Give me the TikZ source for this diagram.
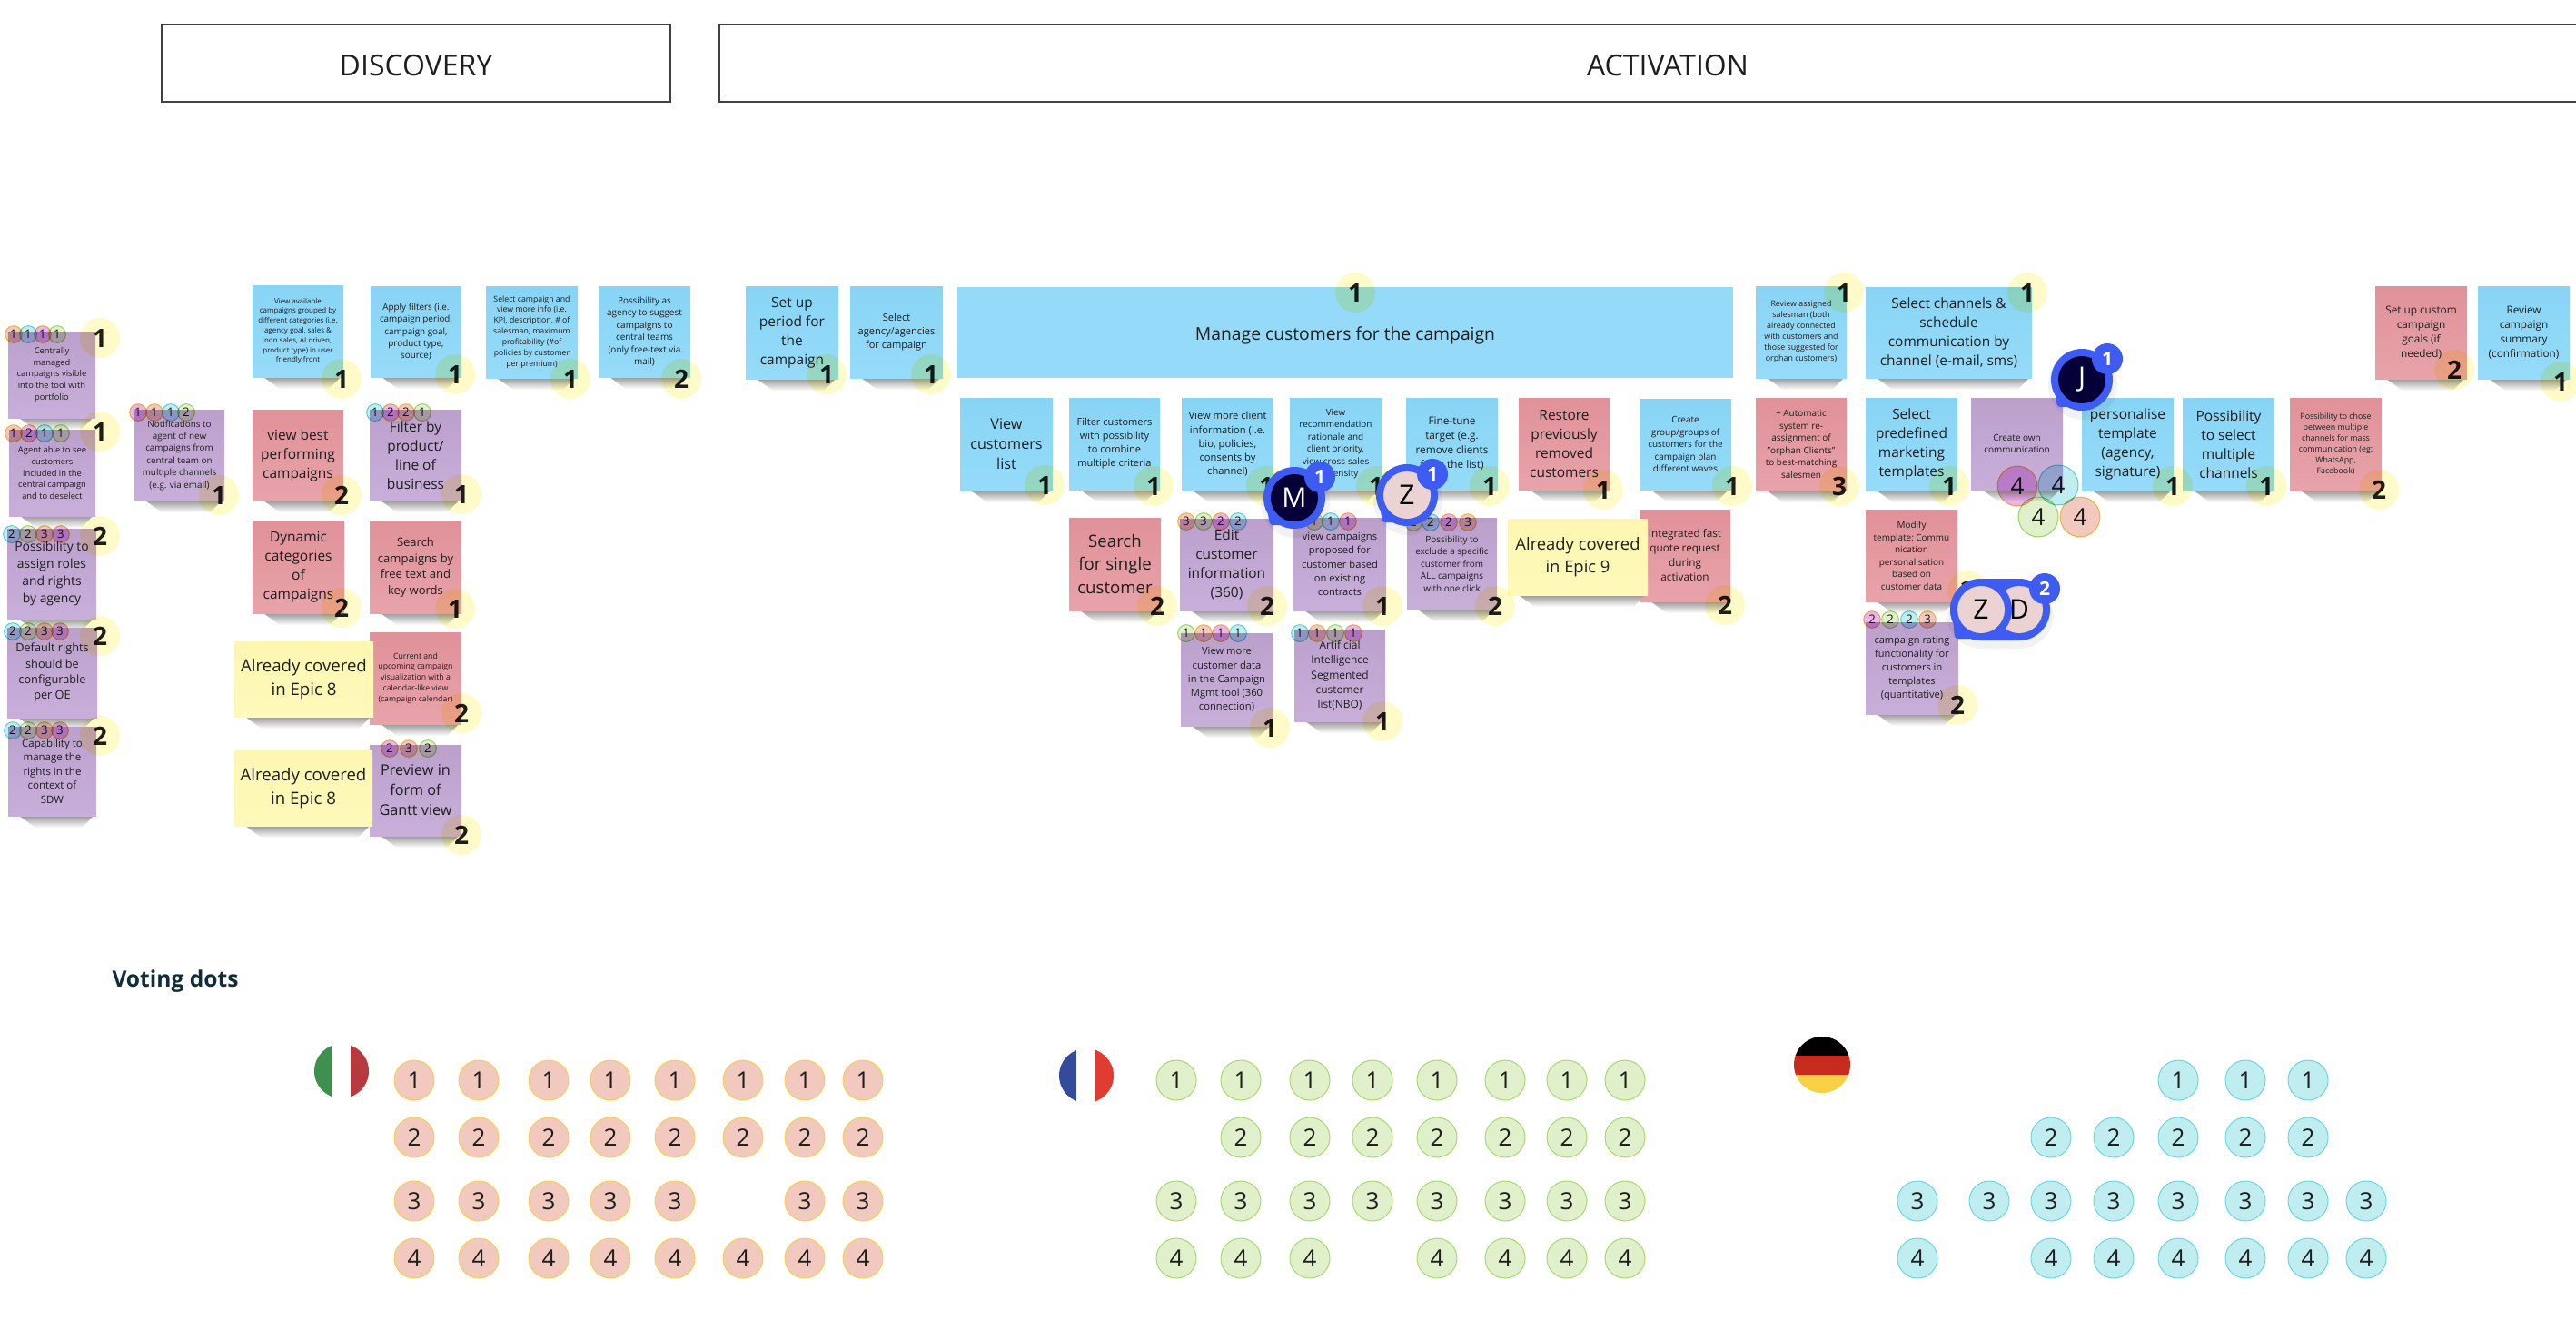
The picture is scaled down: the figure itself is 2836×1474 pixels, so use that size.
\documentclass[tikz,border=0pt]{standalone}
\usepackage{fontspec}
\setmainfont{Open Sans}
\definecolor{inkblack}{HTML}{1E1E1E}
\definecolor{bandblue}{HTML}{3F5CF2}
\definecolor{avatarnavy}{HTML}{050038}
\definecolor{avatarpink}{HTML}{EBD3D3}
\begin{document}
\begin{tikzpicture}[x=.5pt,y=-.5pt,line width=.5pt,text=inkblack,
  headbox/.style={draw=black!75,line width=.6pt,minimum height=42.5pt,text height=15pt,text depth=1pt,font=\fontsize{16}{20}\selectfont},
  sticky/.style={inner sep=0pt,align=center},
  noteblue/.style={top color={rgb,255:red,136;green,212;blue,245},bottom color={rgb,255:red,150;green,219;blue,249}},
  notered/.style={top color={rgb,255:red,224;green,145;blue,153},bottom color={rgb,255:red,232;green,163;blue,170}},
  notepurple/.style={top color={rgb,255:red,187;green,160;blue,204},bottom color={rgb,255:red,200;green,175;blue,218}},
  noteyellow/.style={top color={rgb,255:red,253;green,247;blue,178},bottom color={rgb,255:red,255;green,249;blue,186}},
  sagging/.style={top color=black!40,middle color=black!6,bottom color=white,draw=none},
  badge/.style={circle,fill={rgb,255:red,255;green,251;blue,200},minimum size=22pt,inner sep=0pt,font=\fontsize{14}{16}\bfseries\selectfont},
  votedot/.style={circle,draw,line width=.5pt,minimum size=9.4pt,inner sep=0pt,font=\fontsize{6.6}{8}\selectfont},
  bigdot/.style={votedot,minimum size=22pt,font=\fontsize{13}{15}\selectfont},
  i/.style={fill={rgb,255:red,242;green,201;blue,191},draw={rgb,255:red,246;green,207;blue,80}},
  f/.style={fill={rgb,255:red,224;green,240;blue,203},draw={rgb,255:red,168;green,217;blue,110}},
  d/.style={fill={rgb,255:red,192;green,237;blue,240},draw={rgb,255:red,106;green,214;blue,223}},
  m/.style={fill={rgb,255:red,237;green,180;blue,234},draw={rgb,255:red,246;green,200;blue,80}},
  ring/.style={circle,fill=bandblue,minimum size=34pt,inner sep=0pt},
  face/.style={circle,minimum size=26pt,inner sep=0pt,font=\fontsize{15}{17}\selectfont},
  bubblecount/.style={circle,fill=bandblue,text=white,minimum size=17pt,inner sep=0pt,font=\fontsize{10.5}{12}\bfseries\selectfont}]
  \useasboundingbox (0,0) rectangle (2836,1474);
  \clip (0,0) rectangle (2836,1474);

  \node[headbox,minimum width=280pt] (discovery) at (458,69.5) {DISCOVERY};
  \node[headbox,minimum width=1044pt] (activation) at (1836,69.5) {ACTIVATION};
  \node[anchor=west,inner sep=0pt,font=\fontsize{12.3}{15}\bfseries\selectfont,text={rgb,255:red,15;green,45;blue,58}] (voting) at (123,1080) {Voting dots};

  % name/left/top/right/bottom/colour/line pitch/text; yellow ones last, they lie on top
  \foreach \name/\xl/\yt/\xr/\yb/\col/\pitch/\txt in {
    centrally/9/365/105/460/notepurple/12.7/{Centrally\\managed\\campaigns visible\\into the tool with\\portfolio},
    agentable/10/473/105/568/notepurple/12.7/{Agent able to see\\customers\\included in the\\central campaign\\and to deselect},
    assignroles/8/582/106/681/notepurple/18.9/{Possibility to\\assign roles\\and rights\\by agency},
    defaultrights/8/691/107/790/notepurple/17.3/{Default rights\\should be\\configurable\\per OE},
    manageright/9/800/106/898/notepurple/15.6/{Capability to\\manage the\\rights in the\\context of\\SDW},
    notifications/148/451/247/551/notepurple/13.4/{Notifications to\\agent of new\\campaigns from\\central team on\\multiple channels\\(e.g. via email)},
    viewavailable/278/314/378/415/noteblue/10.8/{View available\\campaigns grouped by\\different categories (i.e.\\agency goal, sales \&\\non sales, AI driven,\\product type) in user\\friendly front},
    applyfilters/408/315/508/415/noteblue/13.4/{Apply filters (i.e.\\campaign period,\\campaign goal,\\product type,\\source)},
    selectinfo/535/315/636/416/noteblue/11.9/{Select campaign and\\view more info (i.e.\\KPI, description, \# of\\salesman, maximum\\profitability (\#of\\policies by customer\\per premium)},
    suggest/659/315/760/415/noteblue/13.5/{Possibility as\\agency to suggest\\campaigns to\\central teams\\(only free-text via\\mail)},
    viewbest/278/451/378/551/notered/21/{view best\\performing\\campaigns},
    filterby/407/451/508/551/notepurple/21/{Filter by\\product/\\line of\\business},
    dynamic/278/573/379/675/notered/21/{Dynamic\\categories\\of\\campaigns},
    searchfree/407/574/508/675/notered/17.7/{Search\\campaigns by\\free text and\\key words},
    calendar/407/696/508/797/notered/11.8/{Current and\\upcoming campaign\\visualization with a\\calendar-like view\\(campaign calendar)},
    gantt/407/820/508/920/notepurple/22/{Preview in\\form of\\Gantt view},
    setperiod/821/315/923/417/noteblue/21/{Set up\\period for\\the\\campaign},
    selectagency/936/315/1038/416/noteblue/15/{Select\\agency/agencies\\for campaign},
    viewlist/1057/438/1159/540/noteblue/22/{View\\customers\\list},
    filtercust/1177/438/1277/539/noteblue/15/{Filter customers\\with possibility\\to combine\\multiple criteria},
    moreclient/1301/438/1402/540/noteblue/15.2/{View more client\\information (i.e.\\bio, policies,\\consents by\\channel)},
    rationale/1420/438/1521/539/noteblue/13.5/{View\\recommendation\\rationale and\\client priority,\\view cross-sales\\propensity},
    finetune/1548/438/1649/539/noteblue/16/{Fine-tune\\target (e.g.\\remove clients\\from the list)},
    restore/1672/438/1772/539/notered/21/{Restore\\previously\\removed\\customers},
    waves/1805/439/1906/539/noteblue/13.5/{Create\\group/groups of\\customers for the\\campaign plan\\different waves},
    searchsingle/1177/570/1278/672/notered/25.3/{Search\\for single\\customer},
    editinfo/1299/571/1402/672/notepurple/21/{Edit\\customer\\information\\(360)},
    viewproposed/1424/570/1526/672/notepurple/15.2/{view campaigns\\proposed for\\customer based\\on existing\\contracts},
    exclude/1549/570/1648/671/notepurple/13.5/{Possibility to\\exclude a specific\\customer from\\ALL campaigns\\with one click},
    quote/1805/561/1905/662/notered/16/{Integrated fast\\quote request\\during\\activation},
    moredata/1300/697/1401/799/notepurple/15.2/{View more\\customer data\\in the Campaign\\Mgmt tool (360\\connection)},
    segmented/1425/693/1525/794/notepurple/16.2/{Artificial\\Intelligence\\Segmented\\customer\\list(NBO)},
    reviewassigned/1933/315/2033/416/noteblue/12/{Review assigned\\salesman (both\\already connected\\with customers and\\those suggested for\\orphan customers)},
    selectchannels/2054/316/2237/416/noteblue/21/{Select channels \&\\schedule\\communication by\\channel (e-mail, sms)},
    reassign/1933/438/2033/540/notered/13.5/{+ Automatic\\system re-\\assignment of\\"orphan Clients"\\to best-matching\\salesmen},
    predefined/2054/438/2155/540/noteblue/21/{Select\\predefined\\marketing\\templates},
    createown/2170/438/2271/539/notepurple/13.5/{Create own\\communication},
    personalise/2292/438/2393/540/noteblue/21/{personalise\\template\\(agency,\\signature)},
    multiple/2403/438/2504/540/noteblue/21/{Possibility\\to select\\multiple\\channels},
    massmail/2521/438/2622/540/notered/12/{Possibility to chose\\between multiple\\channels for mass\\communication (eg:\\WhatsApp,\\Facebook)},
    customgoals/2615/315/2716/417/notered/16/{Set up custom\\campaign\\goals (if\\needed)},
    summary/2728/315/2829/417/noteblue/16/{Review\\campaign\\summary\\(confirmation)},
    modify/2054/561/2155/662/notered/13.5/{Modify\\template; Commu\\nication\\personalisation\\based on\\customer data},
    rating/2054/685/2156/786/notepurple/15/{campaign rating\\functionality for\\customers in\\templates\\(quantitative)},
    coveredone/258/706/411/789/noteyellow/25.3/{Already covered\\in Epic 8},
    coveredtwo/258/826/410/909/noteyellow/25.3/{Already covered\\in Epic 8},
    coverednine/1660/571/1814/655/noteyellow/25/{Already covered\\in Epic 9}}{
    \pgfmathsetmacro\fs{\pitch*.368}
    \pgfmathsetmacro\bl{\pitch*.5}
    \shade[sagging] (\xl+12,\yb) -- (\xr-3,\yb) -- (\xr-16,\yb+13) -- (\xl+30,\yb+13) -- cycle;
    \node[sticky,\col,minimum width={(\xr-\xl)*.5pt},minimum height={(\yb-\yt)*.5pt},font=\fontsize{\fs}{\bl}\selectfont]
      (\name) at ({(\xl+\xr)/2},{(\yt+\yb)/2}) {\txt};
  }
  \node[sticky,fill={rgb,255:red,149;green,218;blue,248},minimum width=427pt,minimum height=50pt,text height=8pt,text depth=-1pt,font=\fontsize{9.65}{13}\selectfont]
    (managecust) at (1481,366) {Manage customers for the campaign};

  \begin{scope}[blend mode=multiply]
    \foreach \x/\y/\n in {110/372/1,110/475/1,110/590/2,110/700/2,110/810/2,241/545/1,
      376/417/1,501/412/1,628/417/1,750/417/2,376/545/2,508/544/1,376/669/2,501/670/1,508/785/2,508/919/2,
      910/412/1,1025/412/1,1150/534/1,1270/535/1,1394/535/1,1515/535/1,1640/535/1,1765/539/1,1907/535/1,1492/322/1,
      1274/667/2,1395/667/2,1522/667/1,1646/667/2,1899/666/2,1398/801/1,1522/794/1,
      2030/322/1,2232/322/1,2025/535/3,2146/535/1,2392/535/1,2495/535/1,2619/539/2,2702/407/2,2819/420/1,2166/650/2,2155/776/2}{
      \node[badge] (badge\x-\y) at (\x,\y) {\n};
    }
    % dots stuck on the notes: x/y/colour/number
    \foreach \x/\y/\kind/\n in {15/368/i/1,31/368/d/1,47/368/m/1,63/368/f/1,
      15/477/i/1,32/477/m/2,49/477/d/1,67/477/f/1,
      13/588/d/2,31/588/f/2,49/588/i/3,67/588/m/3,
      14/695/d/2,31/695/f/2,49/695/i/3,66/695/m/3,
      14/804/d/2,31/804/f/2,49/804/i/3,66/804/m/3,
      152/454/m/1,170/454/i/1,188/454/d/1,205/454/f/2,
      413/454/d/1,430/454/m/2,447/454/i/2,465/454/f/1,
      429/824/m/2,450/824/i/3,471/824/f/2,
      1306/574/i/3,1325/574/f/3,1344/574/m/2,1363/574/d/2,
      1447/574/f/1,1465/574/d/1,1484/574/m/1,
      1556/575/f/2,1575/575/d/2,1595/575/m/2,1616/575/i/3,
      1306/697/f/1,1325/697/i/1,1344/697/m/1,1363/697/d/1,
      1431/697/d/1,1450/697/i/1,1470/697/f/1,1490/697/m/1,
      2061/682/m/2,2081/682/f/2,2102/682/d/2,2122/682/i/3}{
      \node[votedot,\kind] (dot\x-\y) at (\x,\y) {\n};
    }
    \foreach \x/\y/\kind in {2221/535/m,2266/534/d,2244/569/f,2290/569/i}{
      \node[bigdot,\kind] (four\x) at (\x,\y) {4};
    }
  \end{scope}

  % voting dots left over, by country
  \foreach \n/\y/\xlist in {1/1189/{456,527,604,672,743,818,886,950},2/1252/{456,527,604,672,743,818,886,950},
    3/1322/{456,527,604,672,743,886,950},4/1385/{456,527,604,672,743,818,886,950}}{
    \foreach \x in \xlist {\node[bigdot,i] (it\n-\x) at (\x,\y) {\n};}
  }
  \foreach \n/\y/\xlist in {1/1189/{1295,1366,1442,1511,1582,1657,1725,1789},2/1252/{1366,1442,1511,1582,1657,1725,1789},
    3/1322/{1295,1366,1442,1511,1582,1657,1725,1789},4/1385/{1295,1366,1442,1582,1657,1725,1789}}{
    \foreach \x in \xlist {\node[bigdot,f] (fr\n-\x) at (\x,\y) {\n};}
  }
  \foreach \n/\y/\xlist in {1/1189/{2398,2472,2541},2/1252/{2258,2327,2398,2472,2541},
    3/1322/{2111,2190,2258,2327,2398,2472,2541,2605},4/1385/{2111,2258,2327,2398,2472,2541,2605}}{
    \foreach \x in \xlist {\node[bigdot,d] (de\n-\x) at (\x,\y) {\n};}
  }

  % flags
  \begin{scope}
    \clip (376,1179) circle[radius=15pt];
    \fill[white] (340,1145) rectangle (410,1215);
    \fill[fill={rgb,255:red,63;green,143;blue,79}] (340,1145) rectangle (366,1215);
    \fill[fill={rgb,255:red,182;green,58;blue,62}] (386,1145) rectangle (410,1215);
  \end{scope}
  \begin{scope}
    \clip (1196,1184) circle[radius=15pt];
    \fill[fill={rgb,255:red,52;green,74;blue,154}] (1160,1150) rectangle (1185,1220);
    \fill[fill={rgb,255:red,224;green,60;blue,50}] (1205,1150) rectangle (1230,1220);
  \end{scope}
  \begin{scope}
    \clip (2006,1172) circle[radius=15.5pt];
    \fill[black] (1970,1135) rectangle (2040,1162);
    \fill[fill={rgb,255:red,199;green,43;blue,29}] (1970,1162) rectangle (2040,1183);
    \fill[fill={rgb,255:red,247;green,208;blue,70}] (1970,1183) rectangle (2040,1210);
  \end{scope}

  % people on the board
  \foreach \name/\x/\y/\letter/\skin/\ink in {
    markm/1425/548/M/avatarnavy/white,
    markz/1549/545/Z/avatarpink/black,
    markj/2292/418/J/avatarnavy/white}{
    \fill[black,opacity=.05] (\x+1,\y+6) circle[radius=19pt];
    \node[ring] (\name ring) at (\x,\y) {};
    \fill[bandblue,rounded corners=1.5pt] (\x-30,\y+12) -- (\x-27,\y+30) -- (\x-8,\y+30) -- cycle;
    \node[face,fill=\skin,text=\ink] (\name) at (\x,\y) {\letter};
    \node[bubblecount] (\name count) at (\x+28,\y-23) {1};
  }
  \fill[black,opacity=.05,rounded corners=19pt] (2143,644) rectangle (2261,714);
  \fill[bandblue,rounded corners=17pt] (2147,637) rectangle (2257,705);
  \fill[bandblue,rounded corners=1.5pt] (2150,680) -- (2152,703) -- (2172,703) -- cycle;
  \node[face,fill=avatarpink,text=black] (markd) at (2223,671) {D};
  \node[ring] (markzring) at (2181,671) {};
  \node[face,fill=avatarpink,text=black] (markzd) at (2181,671) {Z};
  \node[bubblecount] (markdcount) at (2251,648) {2};
\end{tikzpicture}
\end{document}
